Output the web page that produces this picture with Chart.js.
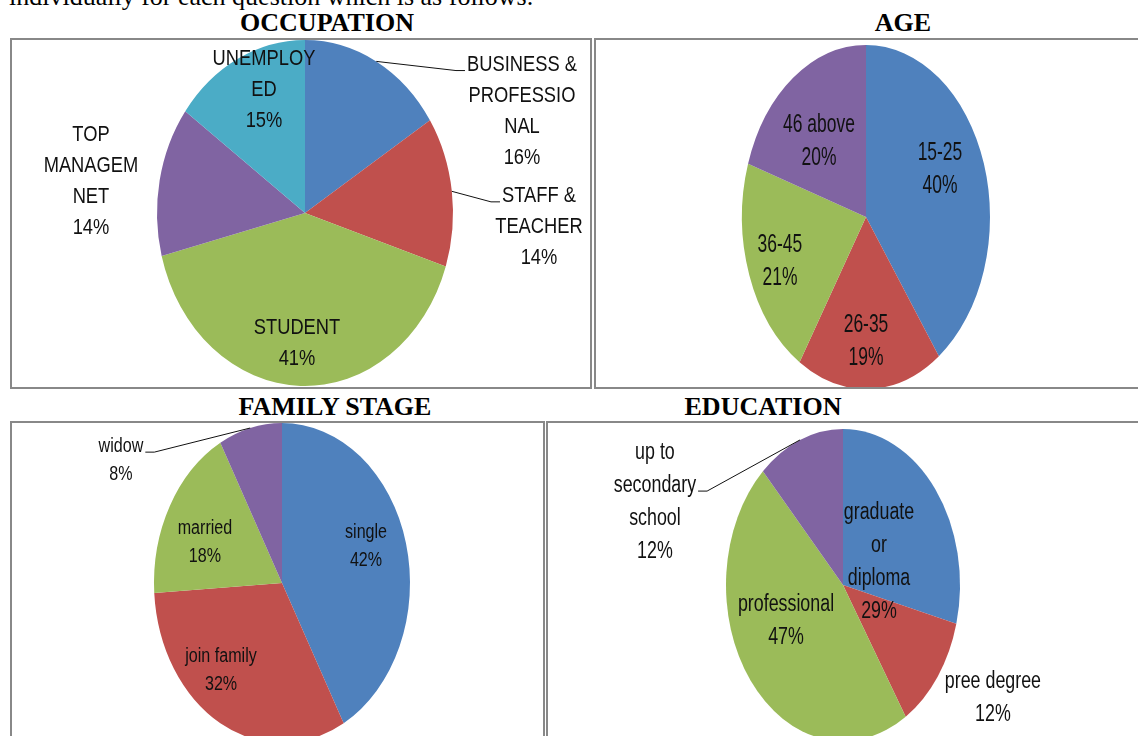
<!DOCTYPE html>
<html>
<head>
<meta charset="utf-8">
<script src="https://cdn.jsdelivr.net/npm/chart.js@4.4.1/dist/chart.umd.min.js"></script>
<style>
  html, body { margin: 0; padding: 0; background: #fff; }
  body { width: 1138px; height: 736px; position: relative; overflow: hidden; }
  .box { position: absolute; box-sizing: border-box; border: 2px solid #888; }
  .title { position: absolute; font: bold 26px 'Liberation Serif', 'Times New Roman', serif; line-height: 26px;
           white-space: nowrap; color: #000; transform: translateX(-50%); }
  .intro { position: absolute; left: 9px; top: -16px; font: 26px 'Liberation Serif', 'Times New Roman', serif;
           line-height: 26px; white-space: nowrap; color: #000; }
  canvas { position: absolute; }
</style>
</head>
<body>
<div class="intro">individually for each question which is as follows.</div>
<div class="title" style="left:327px; top:10px">OCCUPATION</div>
<div class="title" style="left:903px; top:10px">AGE</div>
<div class="title" style="left:335px; top:394px">FAMILY STAGE</div>
<div class="title" style="left:763px; top:394px">EDUCATION</div>

<div class="box" style="left:10px; top:38px; width:582px; height:351px"></div>
<div class="box" style="left:594px; top:38px; width:560px; height:351px"></div>
<div class="box" style="left:10px; top:421px; width:535px; height:340px"></div>
<div class="box" style="left:546px; top:421px; width:608px; height:340px"></div>

<canvas id="occupation"></canvas>
<canvas id="age"></canvas>
<canvas id="family"></canvas>
<canvas id="education"></canvas>

<script>
// values (percent)
const occupationLabels = [['BUSINESS &', 'PROFESSIO', 'NAL'], ['STAFF &', 'TEACHER'], 'STUDENT', ['TOP', 'MANAGEM', 'NET'], ['UNEMPLOY', 'ED']];
const occupationValues = [16, 14, 41, 14, 15];

const ageLabels = ['15-25', '26-35', '36-45', '46 above'];
const ageValues = [40, 19, 21, 20];

const familyLabels = ['single', 'join family', 'married', 'widow'];
const familyValues = [42, 32, 18, 8];

const educationLabels = [['graduate', 'or', 'diploma'], 'pree degree', 'professional', ['up to', 'secondary', 'school']];
const educationValues = [29, 12, 47, 12];

const colors = ['#4F81BD', '#C0504D', '#9BBB59', '#8064A2', '#4BACC6'];

// squash the round pie into an upright ellipse
const ellipse = {
    id: 'ellipse',
    beforeDatasetsDraw(chart, args, opts) {
        const arc = chart.getDatasetMeta(0).data[0];
        const ctx = chart.ctx;
        ctx.save();
        ctx.translate(arc.x, arc.y);
        ctx.scale(1, opts.sy);
        ctx.translate(-arc.x, -arc.y);
    },
    afterDatasetsDraw(chart) {
        chart.ctx.restore();
    }
};

// excel style data labels: name + percent, some with leader lines
const pieLabels = {
    id: 'pieLabels',
    afterDraw(chart, args, o) {
        const ctx = chart.ctx;
        const arcs = chart.getDatasetMeta(0).data;
        const labels = chart.data.labels;
        const values = chart.data.datasets[0].data;
        ctx.save();
        ctx.fillStyle = '#111';
        ctx.strokeStyle = '#111';
        ctx.lineWidth = 1;
        ctx.font = o.size + "px 'Liberation Sans', Arial, sans-serif";
        ctx.textAlign = 'center';
        ctx.textBaseline = 'middle';
        arcs.forEach((arc, i) => {
            const p = o.place[i];
            const R = arc.outerRadius;
            const mid = (arc.startAngle + arc.endAngle) / 2;
            const a = mid + p.da * Math.PI / 180;
            const x = arc.x + p.d * R * Math.cos(a);
            const y = arc.y + p.d * R * o.sy * Math.sin(a);
            const lines = [].concat(labels[i], values[i] + '%');
            const top = y - (lines.length - 1) * o.lh / 2;
            lines.forEach((t, j) => {
                ctx.save();
                ctx.translate(x, top + j * o.lh);
                ctx.scale(o.sx, o.sy);
                ctx.fillText(t, 0, 0);
                ctx.restore();
            });
            if (p.leader !== undefined) {
                const ly = top + p.leader * o.lh + 6;
                const w = ctx.measureText(lines[p.leader]).width * o.sx;
                const dir = p.side === 'right' ? 1 : -1;
                const end = x + dir * (w / 2 + 2);
                const elbow = end + dir * 9;
                ctx.beginPath();
                ctx.moveTo(arc.x + R * Math.cos(mid), arc.y + R * o.sy * Math.sin(mid));
                ctx.lineTo(elbow, ly);
                ctx.lineTo(end, ly);
                ctx.stroke();
            }
        });
        ctx.restore();
    }
};

function makePie(id, labels, values, g) {
    const cv = document.getElementById(id);
    cv.width = g.w;
    cv.height = g.h;
    cv.style.left = g.left + 'px';
    cv.style.top = g.top + 'px';
    const r = g.rx, sy = g.ry / g.rx;
    const cx = g.cx - g.left, cy = g.cy - g.top;
    new Chart(cv, {
        type: 'pie',
        data: {
            labels: labels,
            datasets: [{
                data: values,
                backgroundColor: colors.slice(0, values.length),
                borderWidth: 0,
                clip: false
            }]
        },
        options: {
            responsive: false,
            animation: false,
            events: [],
            layout: { padding: { left: cx - r, right: g.w - cx - r, top: cy - r, bottom: g.h - cy - r } },
            plugins: {
                legend: { display: false },
                tooltip: { enabled: false },
                ellipse: { sy: sy },
                pieLabels: { sy: sy, sx: 0.97, size: g.font, lh: g.lh, place: g.place }
            }
        },
        plugins: [ellipse, pieLabels]
    });
}

makePie('occupation', occupationLabels, occupationValues, {
    left: 12, top: 40, w: 578, h: 347, cx: 305, cy: 213, rx: 148, ry: 173, font: 18.9, lh: 31,
    place: [
        { da: 39.3, d: 1.58, leader: 0, side: 'left' },
        { da: 10.1, d: 1.583, leader: 0, side: 'left' },
        { da: 2.3, d: 0.756 },
        { da: -3.5, d: 1.458 },
        { da: 5.7, d: 0.763 }
    ]
});

makePie('age', ageLabels, ageValues, {
    left: 596, top: 40, w: 542, h: 347, cx: 866, cy: 217, rx: 124, ry: 172, font: 18, lh: 33,
    place: [
        { da: -6.6, d: 0.656 },
        { da: 1.8, d: 0.724 },
        { da: -0.7, d: 0.741 },
        { da: -5, d: 0.578 }
    ]
});

makePie('family', familyLabels, familyValues, {
    left: 12, top: 423, w: 531, h: 313, cx: 282, cy: 583, rx: 128, ry: 160, font: 16.6, lh: 28,
    place: [
        { da: -5, d: 0.696 },
        { da: 12.4, d: 0.723 },
        { da: -5.8, d: 0.654 },
        { da: -44.2, d: 1.474, leader: 0, side: 'right' }
    ]
});

makePie('education', educationLabels, educationValues, {
    left: 548, top: 423, w: 590, h: 313, cx: 843, cy: 585, rx: 117, ry: 156, font: 18.4, lh: 33,
    place: [
        { da: 12.3, d: 0.341 },
        { da: -6.6, d: 1.471 },
        { da: 12.7, d: 0.538 },
        { da: -50, d: 1.694, leader: 1, side: 'right' }
    ]
});
</script>
</body>
</html>
